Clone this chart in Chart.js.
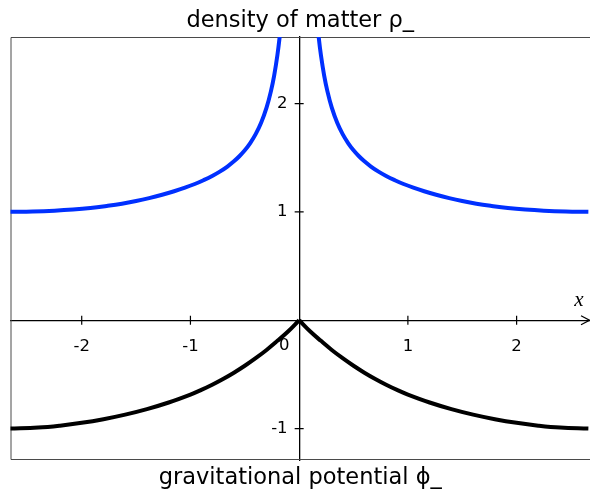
<!DOCTYPE html>
<html>
<head>
<meta charset="utf-8">
<script src="https://cdn.jsdelivr.net/npm/chart.js@4.4.0/dist/chart.umd.min.js"></script>
<style>
  html, body { margin: 0; padding: 0; background: #fff; }
</style>
</head>
<body>
<canvas id="chart" width="590" height="489"></canvas>
<script>
// values
const xTickValues = [-2, -1, 1, 2];
const yTickValues = [-1, 1, 2];

// density of matter (two branches, blows up at x = 0)
const rhoLeftX  = [-2.66, -2.45, -2.25, -2.08, -1.92, -1.77, -1.63, -1.5, -1.38, -1.26, -1.15, -1.05, -0.96, -0.88, -0.8, -0.73, -0.66, -0.6, -0.55, -0.5, -0.45, -0.4, -0.35, -0.3, -0.26, -0.23, -0.2, -0.18, -0.16, -0.14, -0.12, -0.1, -0.08, -0.06];
const rhoLeft   = [1.002, 1.005, 1.012, 1.022, 1.036, 1.055, 1.076, 1.101, 1.128, 1.159, 1.191, 1.224, 1.258, 1.293, 1.332, 1.372, 1.419, 1.467, 1.514, 1.569, 1.636, 1.718, 1.823, 1.963, 2.113, 2.259, 2.449, 2.61, 2.812, 3.071, 3.417, 3.9, 4.625, 5.833];
const rhoRightX = [0.06, 0.08, 0.1, 0.12, 0.14, 0.16, 0.18, 0.2, 0.23, 0.26, 0.3, 0.35, 0.4, 0.45, 0.5, 0.55, 0.6, 0.66, 0.73, 0.8, 0.88, 0.96, 1.05, 1.15, 1.26, 1.38, 1.5, 1.63, 1.77, 1.92, 2.08, 2.25, 2.45, 2.66];
const rhoRight  = [5.833, 4.625, 3.9, 3.417, 3.071, 2.812, 2.61, 2.449, 2.259, 2.113, 1.963, 1.823, 1.718, 1.636, 1.569, 1.514, 1.467, 1.419, 1.372, 1.332, 1.293, 1.258, 1.224, 1.191, 1.159, 1.128, 1.101, 1.076, 1.055, 1.036, 1.022, 1.012, 1.005, 1.002];

// gravitational potential (cusp at x = 0)
const phiLeftX  = [-2.66, -2.4, -2.2, -2.0, -1.8, -1.6, -1.4, -1.2, -1.0, -0.9, -0.8, -0.7, -0.6, -0.5, -0.4, -0.3, -0.2, -0.1, 0];
const phiLeft   = [-1.0, -0.991, -0.973, -0.947, -0.913, -0.871, -0.82, -0.759, -0.686, -0.643, -0.595, -0.542, -0.484, -0.42, -0.35, -0.274, -0.19, -0.102, 0];
const phiRightX = [0, 0.1, 0.2, 0.3, 0.4, 0.5, 0.6, 0.7, 0.8, 0.9, 1.0, 1.2, 1.4, 1.6, 1.8, 2.0, 2.2, 2.4, 2.66];
const phiRight  = [0, -0.102, -0.19, -0.274, -0.35, -0.42, -0.484, -0.542, -0.595, -0.643, -0.686, -0.759, -0.82, -0.871, -0.913, -0.947, -0.973, -0.991, -1.0];

const FONT = "'DejaVu Sans', sans-serif";
const BLUE = '#0030ff';

function pts(xs, ys) {
  return xs.map((v, i) => ({x: v, y: ys[i]}));
}

function curve(xs, ys, color) {
  return {
    data: pts(xs, ys),
    borderColor: color,
    borderWidth: 4,
    pointRadius: 0,
    fill: false,
    tension: 0.4,
    capBezierPoints: false,
    clip: 0
  };
}

// frame, crossing tick marks, arrow, "0" and "x"
const axisDecor = {
  id: 'axisDecor',
  beforeDatasetsDraw(chart) {
    const {ctx, chartArea: a, scales: {x, y}} = chart;
    const x0 = x.getPixelForValue(0), y0 = y.getPixelForValue(0);
    ctx.save();
    ctx.strokeStyle = '#4a4a4a';
    ctx.lineWidth = 1;
    ctx.beginPath();
    ctx.moveTo(a.right + 2, a.top + 0.5);
    ctx.lineTo(a.left + 0.5, a.top + 0.5);
    ctx.lineTo(a.left + 0.5, a.bottom - 0.5);
    ctx.lineTo(a.right + 2, a.bottom - 0.5);
    ctx.stroke();

    ctx.strokeStyle = '#000';
    ctx.lineWidth = 1.2;
    ctx.beginPath();
    xTickValues.forEach(v => {
      const p = x.getPixelForValue(v);
      ctx.moveTo(p, y0 - 4.5); ctx.lineTo(p, y0 + 4.5);
    });
    yTickValues.forEach(v => {
      const p = y.getPixelForValue(v);
      ctx.moveTo(x0 - 4.5, p); ctx.lineTo(x0 + 4.5, p);
    });
    ctx.moveTo(a.right - 9, y0 - 4.5);
    ctx.lineTo(a.right - 0.5, y0);
    ctx.lineTo(a.right - 9, y0 + 4.5);
    ctx.stroke();

    ctx.fillStyle = '#000';
    ctx.textAlign = 'center';
    ctx.textBaseline = 'middle';
    ctx.font = '16.5px ' + FONT;
    ctx.fillText('0', x0 - 15, y0 + 25);
    ctx.font = "italic 21px 'Liberation Serif', serif";
    ctx.fillText('x', a.right - 11, y0 - 20);
    ctx.restore();
  }
};

new Chart(document.getElementById('chart'), {
  type: 'line',
  data: {
    datasets: [
      curve(rhoLeftX, rhoLeft, BLUE),
      curve(rhoRightX, rhoRight, BLUE),
      curve(phiLeftX, phiLeft, '#000'),
      curve(phiRightX, phiRight, '#000')
    ]
  },
  options: {
    responsive: false,
    animation: false,
    layout: { padding: { left: 10.5, right: 0, top: 0, bottom: 0 } },
    plugins: {
      legend: { display: false },
      tooltip: { enabled: false },
      title: {
        display: true,
        text: 'density of matter ρ_',
        color: '#000',
        font: { family: FONT, size: 22.5, weight: 'normal', lineHeight: 1 },
        padding: { top: 10, bottom: 4.5 }
      },
      subtitle: {
        display: true,
        position: 'bottom',
        text: 'gravitational potential ϕ_',
        color: '#000',
        font: { family: FONT, size: 22.5, weight: 'normal', lineHeight: 1 },
        padding: { top: 6.5, bottom: 0 }
      }
    },
    scales: {
      x: {
        type: 'linear',
        min: -2.655,
        max: 2.675,
        position: { y: 0 },
        grid: { display: false, drawTicks: false },
        border: { display: true, color: '#000', width: 1.3 },
        afterBuildTicks: s => { s.ticks = xTickValues.map(v => ({value: v})); },
        ticks: { color: '#000', font: { family: FONT, size: 16.5 }, padding: 17, maxRotation: 0, autoSkip: false }
      },
      y: {
        type: 'linear',
        min: -1.29,
        max: 2.615,
        position: { x: 0 },
        grid: { display: false, drawTicks: false },
        border: { display: true, color: '#000', width: 1.3 },
        afterBuildTicks: s => { s.ticks = yTickValues.map(v => ({value: v})); },
        // labels sit right-aligned on the axis line; the trailing spaces keep the gap
        ticks: { color: '#000', font: { family: FONT, size: 16.5 }, autoSkip: false,
                 callback: v => v + '\u2002\u2009' }
      }
    }
  },
  plugins: [axisDecor]
});
</script>
</body>
</html>
